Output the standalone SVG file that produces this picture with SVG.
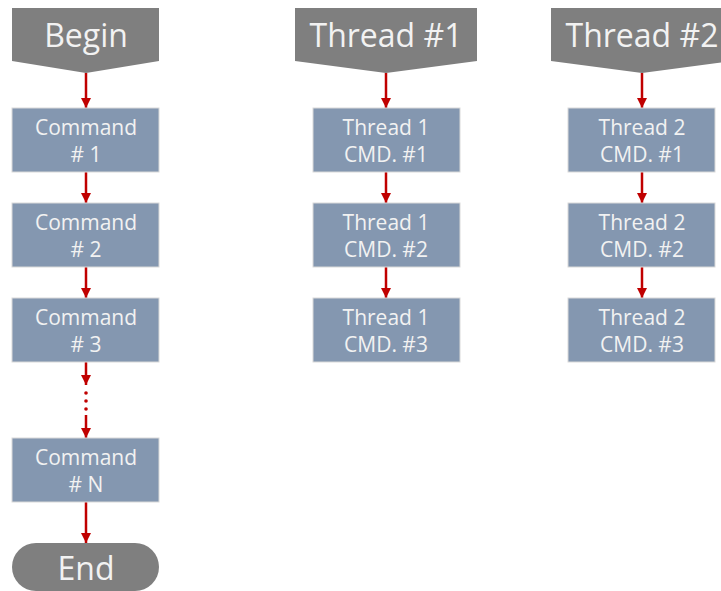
<svg xmlns="http://www.w3.org/2000/svg" width="721" height="591" viewBox="0 0 721 591">
<style>
.hdr{fill:#7f7f7f}
.box{fill:#8497b0;stroke:#d9d9d9;stroke-width:1}
.t{font-family:"Open Sans","Noto Sans",sans-serif;fill:#f2f2f2;text-anchor:middle}
.big{font-size:32px}
.sm{font-size:21px}
.ln{stroke:#c00000;stroke-width:2.5;fill:none}
</style>
<defs>
<marker id="ah" viewBox="0 0 10 10" refX="10" refY="5" markerWidth="10" markerHeight="10" markerUnits="userSpaceOnUse" orient="auto">
<path d="M0,0 L10,5 L0,10 Z" fill="#c00000"/>
</marker>
</defs>
<g id="connectors">
<line class="ln" x1="86" y1="73" x2="86" y2="108" marker-end="url(#ah)"/>
<line class="ln" x1="86" y1="172" x2="86" y2="203" marker-end="url(#ah)"/>
<line class="ln" x1="86" y1="267" x2="86" y2="298" marker-end="url(#ah)"/>
<line class="ln" x1="86" y1="362" x2="86" y2="385" marker-end="url(#ah)"/>
<circle cx="86" cy="393" r="1.8" fill="#c00000"/>
<circle cx="86" cy="401" r="1.8" fill="#c00000"/>
<circle cx="86" cy="409" r="1.8" fill="#c00000"/>
<line class="ln" x1="86" y1="415" x2="86" y2="438" marker-end="url(#ah)"/>
<line class="ln" x1="86" y1="502" x2="86" y2="543" marker-end="url(#ah)"/>
<line class="ln" x1="386" y1="73" x2="386" y2="108" marker-end="url(#ah)"/>
<line class="ln" x1="386" y1="172" x2="386" y2="203" marker-end="url(#ah)"/>
<line class="ln" x1="386" y1="267" x2="386" y2="298" marker-end="url(#ah)"/>
<line class="ln" x1="642" y1="73" x2="642" y2="108" marker-end="url(#ah)"/>
<line class="ln" x1="642" y1="172" x2="642" y2="203" marker-end="url(#ah)"/>
<line class="ln" x1="642" y1="267" x2="642" y2="298" marker-end="url(#ah)"/>
</g>
<g id="begin">
<path class="hdr" d="M12,8 H159 V61 L86,73 L12,61 Z"/>
<text class="t big" x="86" y="47">Begin</text>
</g>
<g id="thread1">
<path class="hdr" d="M295,8 H477 V61 L386,73 L295,61 Z"/>
<text class="t big" x="386" y="47">Thread #1</text>
</g>
<g id="thread2">
<path class="hdr" d="M551,8 H733 V61 L642,73 L551,61 Z"/>
<text class="t big" x="642" y="47">Thread #2</text>
</g>
<g id="cmd1">
<rect class="box" x="12" y="108" width="147" height="64"/>
<text class="t sm" x="86" y="135">Command</text>
<text class="t sm" x="86" y="162"># 1</text>
</g>
<g id="cmd2">
<rect class="box" x="12" y="203" width="147" height="64"/>
<text class="t sm" x="86" y="230">Command</text>
<text class="t sm" x="86" y="257"># 2</text>
</g>
<g id="cmd3">
<rect class="box" x="12" y="298" width="147" height="64"/>
<text class="t sm" x="86" y="325">Command</text>
<text class="t sm" x="86" y="352"># 3</text>
</g>
<g id="cmdN">
<rect class="box" x="12" y="438" width="147" height="64"/>
<text class="t sm" x="86" y="465">Command</text>
<text class="t sm" x="86" y="492"># N</text>
</g>
<g id="end">
<rect class="hdr" x="12" y="543" width="147" height="48" rx="24" ry="24"/>
<text class="t big" x="86" y="580">End</text>
</g>
<g id="t1c1">
<rect class="box" x="313" y="108" width="147" height="64"/>
<text class="t sm" x="386" y="135">Thread 1</text>
<text class="t sm" x="386" y="162">CMD. #1</text>
</g>
<g id="t1c2">
<rect class="box" x="313" y="203" width="147" height="64"/>
<text class="t sm" x="386" y="230">Thread 1</text>
<text class="t sm" x="386" y="257">CMD. #2</text>
</g>
<g id="t1c3">
<rect class="box" x="313" y="298" width="147" height="64"/>
<text class="t sm" x="386" y="325">Thread 1</text>
<text class="t sm" x="386" y="352">CMD. #3</text>
</g>
<g id="t2c1">
<rect class="box" x="568" y="108" width="147" height="64"/>
<text class="t sm" x="642" y="135">Thread 2</text>
<text class="t sm" x="642" y="162">CMD. #1</text>
</g>
<g id="t2c2">
<rect class="box" x="568" y="203" width="147" height="64"/>
<text class="t sm" x="642" y="230">Thread 2</text>
<text class="t sm" x="642" y="257">CMD. #2</text>
</g>
<g id="t2c3">
<rect class="box" x="568" y="298" width="147" height="64"/>
<text class="t sm" x="642" y="325">Thread 2</text>
<text class="t sm" x="642" y="352">CMD. #3</text>
</g>
</svg>
